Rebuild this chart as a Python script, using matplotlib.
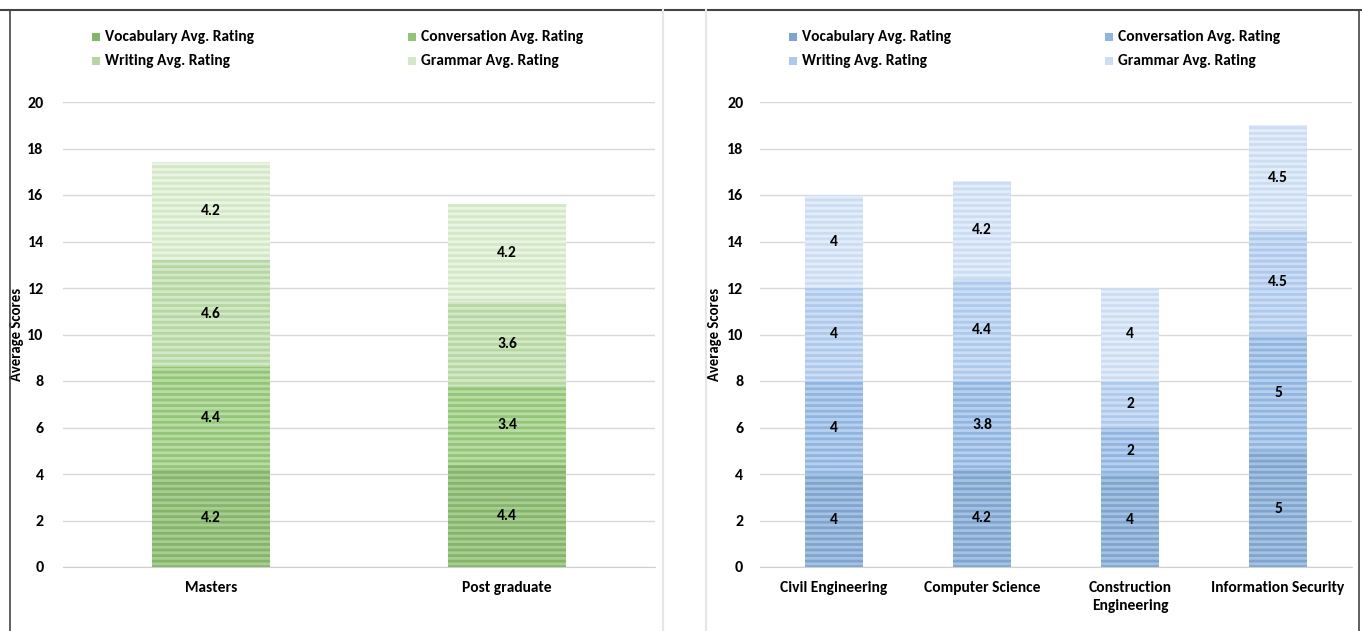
import numpy as np
import matplotlib.pyplot as plt
import matplotlib.patches as mpatches
import matplotlib.lines as mlines

plt.rcParams['font.family'] = ['Carlito', 'DejaVu Sans']
plt.rcParams['font.weight'] = 'bold'
plt.rcParams['hatch.linewidth'] = 2.0

series = ["Vocabulary Avg. Rating", "Conversation Avg. Rating",
          "Writing Avg. Rating", "Grammar Avg. Rating"]

# degree level
degrees = ["Masters", "Post graduate"]
deg_vocab = [4.2, 4.4]
deg_conv = [4.4, 3.4]
deg_writing = [4.6, 3.6]
deg_grammar = [4.2, 4.2]

# department
depts = ["Civil Engineering", "Computer Science", "Construction\nEngineering", "Information Security"]
dep_vocab = [4, 4.2, 4, 5]
dep_conv = [4, 3.8, 2, 5]
dep_writing = [4, 4.4, 2, 4.5]
dep_grammar = [4, 4.2, 4, 4.5]

# (face, stripe) per series
greens = [("#84b56b", "#a8cd92"), ("#92c577", "#b9dca5"),
          ("#b6d7a1", "#d3e8c6"), ("#d3e8c6", "#e9f4e2")]
blues = [("#7fa5cf", "#a6c2e2"), ("#90b5e1", "#b8d0ee"),
         ("#adc9ec", "#cddef4"), ("#cbdcf3", "#e3edf9")]

FS = 11.2


def stacked(ax, cats, vals, colors, width, ypad):
    x = np.arange(len(cats))
    bottom = np.zeros(len(cats))
    for v, (face, stripe) in zip(vals, colors):
        v = np.array(v, dtype=float)
        ax.bar(x, v, width, bottom=bottom, color=face, edgecolor=stripe,
               hatch='---', linewidth=0, zorder=2)
        for xi, b, vi in zip(x, bottom, v):
            ax.text(xi, b + vi / 2, f"{vi:g}", ha='center', va='center',
                    fontsize=FS, fontweight='bold', color='black', zorder=3)
        bottom += v
    ax.set_xticks(x)
    ax.set_xticklabels(cats, fontsize=FS, fontweight='bold', linespacing=1.4)
    ax.set_xlim(-0.5, len(cats) - 0.5)
    ax.set_ylim(0, 20)
    ax.set_yticks(np.arange(0, 21, 2))
    ax.tick_params(axis='y', labelsize=FS + 0.3, length=0, pad=ypad)
    ax.tick_params(axis='x', length=0, pad=10)
    ax.grid(axis='y', color='#d9d9d9', linewidth=1, zorder=0)
    for s in ['top', 'right', 'left']:
        ax.spines[s].set_visible(False)
    ax.spines['bottom'].set_color('#d0d0d0')
    ax.set_ylabel("Average Scores", fontsize=10.5, fontweight='bold')


def legend(fig, colors, x0, x1):
    for i, (name, (face, stripe)) in enumerate(zip(series, colors)):
        x = x0 if i % 2 == 0 else x1
        y = 1 - (37 if i < 2 else 61) / 631
        fig.patches.append(mpatches.Rectangle((x / 1362, y - 4 / 631), 8 / 1362, 8 / 631,
                                              transform=fig.transFigure, facecolor=face,
                                              edgecolor='none'))
        fig.text((x + 13) / 1362, y, name, fontsize=FS, fontweight='bold',
                 va='center', ha='left')


fig = plt.figure(figsize=(13.62, 6.31), dpi=100)
ax1 = fig.add_axes([63 / 1362, 1 - 567 / 631, 592 / 1362, 465 / 631])
ax2 = fig.add_axes([760 / 1362, 1 - 567 / 631, 592 / 1362, 465 / 631])

stacked(ax1, degrees, [deg_vocab, deg_conv, deg_writing, deg_grammar], greens, 0.4, 14)
stacked(ax2, depts, [dep_vocab, dep_conv, dep_writing, dep_grammar], blues, 0.39, 12)
ax1.yaxis.set_label_coords(-0.066, 0.5)
ax2.yaxis.set_label_coords(-0.064, 0.5)

legend(fig, greens, 92, 408)
legend(fig, blues, 789, 1105)

# frame lines
W, H = 1362, 631
fig.lines.append(mlines.Line2D([0, 1], [1 - 10 / H] * 2, transform=fig.transFigure,
                               color='#444444', linewidth=1.5))
fig.lines.append(mlines.Line2D([10 / W] * 2, [0, 1 - 10 / H], transform=fig.transFigure,
                               color='#444444', linewidth=1.2))
fig.lines.append(mlines.Line2D([1359 / W] * 2, [0, 1 - 10 / H], transform=fig.transFigure,
                               color='#444444', linewidth=1.2))
for xp in (663, 706):
    fig.lines.append(mlines.Line2D([xp / W] * 2, [0, 1 - 10 / H], transform=fig.transFigure,
                                   color='#e6e6e6', linewidth=1.5))

fig.savefig("out.png", dpi=100)
